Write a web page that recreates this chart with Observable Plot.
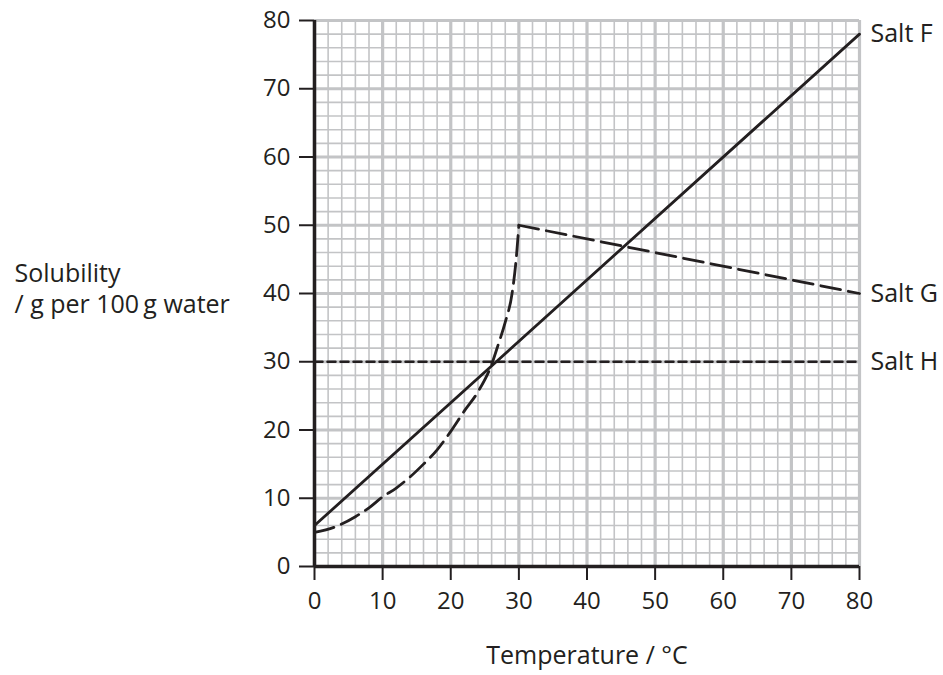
<!DOCTYPE html>
<html>
<head>
<meta charset="utf-8">
<script src="https://cdn.jsdelivr.net/npm/d3@7"></script>
<script src="https://cdn.jsdelivr.net/npm/@observablehq/plot@0.6"></script>
<style>
  body { margin: 0; background: #fff; }
  svg { font-family: "Open Sans", sans-serif; }
  g[aria-label="x-axis tick label"] text, g[aria-label="y-axis tick label"] text { font-size: 24px; }
</style>
</head>
<body>
<div id="chart"></div>
<script>
// Tick values
const xTicks = [0, 10, 20, 30, 40, 50, 60, 70, 80];
const yTicks = [0, 10, 20, 30, 40, 50, 60, 70, 80];
const minorGrid = d3.range(0, 81, 2);
const majorGrid = [0, 10, 20, 30, 40, 50, 60, 70, 80];

// Salt F (straight line)
const saltFTemp = [0, 80];
const saltFSol = [6, 78];

// Salt G, curved part (0–30 °C)
const saltGCurveTemp = [0, 3, 6, 8, 10, 12, 14, 16, 18, 20, 22, 24, 26, 27, 28, 29, 29.6, 30];
const saltGCurveSol  = [5, 5.8, 7.3, 8.6, 10.2, 11.5, 13.1, 15, 17.1, 19.8, 22.8, 25.6, 29.6, 32.6, 35.8, 40, 45, 50];
// Salt G, straight part (30–80 °C)
const saltGLineTemp = [30, 80];
const saltGLineSol = [50, 40];

// Salt H (constant)
const saltHTemp = [0, 80];
const saltHSol = [30, 30];

// Series labels
const labelNames = ["Salt F", "Salt G", "Salt H"];
const labelValues = [78, 40, 30];

// Axis titles
const xTitle = "Temperature / °C";
const yTitleLines = ["Solubility", "/ g per 100\u2009g water"];

const F = saltFTemp.map((t, i) => ({t, s: saltFSol[i]}));
const Gc = saltGCurveTemp.map((t, i) => ({t, s: saltGCurveSol[i]}));
const Gl = saltGLineTemp.map((t, i) => ({t, s: saltGLineSol[i]}));
const H = saltHTemp.map((t, i) => ({t, s: saltHSol[i]}));
const labels = labelNames.map((n, i) => ({name: n, t: 80, s: labelValues[i]}));

const gridColor = "#c3c4c6";
const ink = "#231f20";

const chart = Plot.plot({
  width: 943,
  height: 675,
  marginLeft: 314,
  marginRight: 84,
  marginTop: 20,
  marginBottom: 109,
  style: {fontFamily: "'Open Sans', sans-serif", fontSize: "24px", color: ink, background: "#fff"},
  x: {domain: [0, 80]},
  y: {domain: [0, 80]},
  marks: [
    Plot.ruleX(minorGrid, {stroke: gridColor, strokeWidth: 1.6}),
    Plot.ruleY(minorGrid, {stroke: gridColor, strokeWidth: 1.6}),
    Plot.ruleX(majorGrid, {stroke: gridColor, strokeWidth: 3.2}),
    Plot.ruleY(majorGrid, {stroke: gridColor, strokeWidth: 3.2}),
    Plot.axisX({ticks: xTicks, tickSize: 14, tickPadding: 11, tickFormat: d => d, fontSize: 24, label: null, stroke: ink, strokeWidth: 2}),
    Plot.axisY({ticks: yTicks, tickSize: 15, tickPadding: 9, tickFormat: d => d, fontSize: 24, label: null, stroke: ink, strokeWidth: 2}),
    Plot.ruleX([0], {stroke: ink, strokeWidth: 3.5}),
    Plot.ruleY([0], {stroke: ink, strokeWidth: 3.5}),
    Plot.line(H, {x: "t", y: "s", stroke: ink, strokeWidth: 2.5, strokeDasharray: "8,5"}),
    Plot.line(F, {x: "t", y: "s", stroke: ink, strokeWidth: 2.8}),
    Plot.line(Gc, {x: "t", y: "s", stroke: ink, strokeWidth: 2.8, strokeDasharray: "20,8", curve: "monotone-x"}),
    Plot.line(Gl, {x: "t", y: "s", stroke: ink, strokeWidth: 2.8, strokeDasharray: "20,8"}),
    Plot.text(labels, {x: "t", y: "s", text: "name", textAnchor: "start", dx: 11, fontSize: 25, fill: ink}),
    Plot.text([xTitle], {frameAnchor: "bottom", dy: 97, fontSize: 25, fill: ink}),
    Plot.text([yTitleLines[0]], {frameAnchor: "left", textAnchor: "start", dx: -300, dy: -20, fontSize: 25, fill: ink}),
    Plot.text([yTitleLines[1]], {frameAnchor: "left", textAnchor: "start", dx: -300, dy: 11, fontSize: 25, fill: ink})
  ]
});
document.getElementById("chart").appendChild(chart);
</script>
</body>
</html>
